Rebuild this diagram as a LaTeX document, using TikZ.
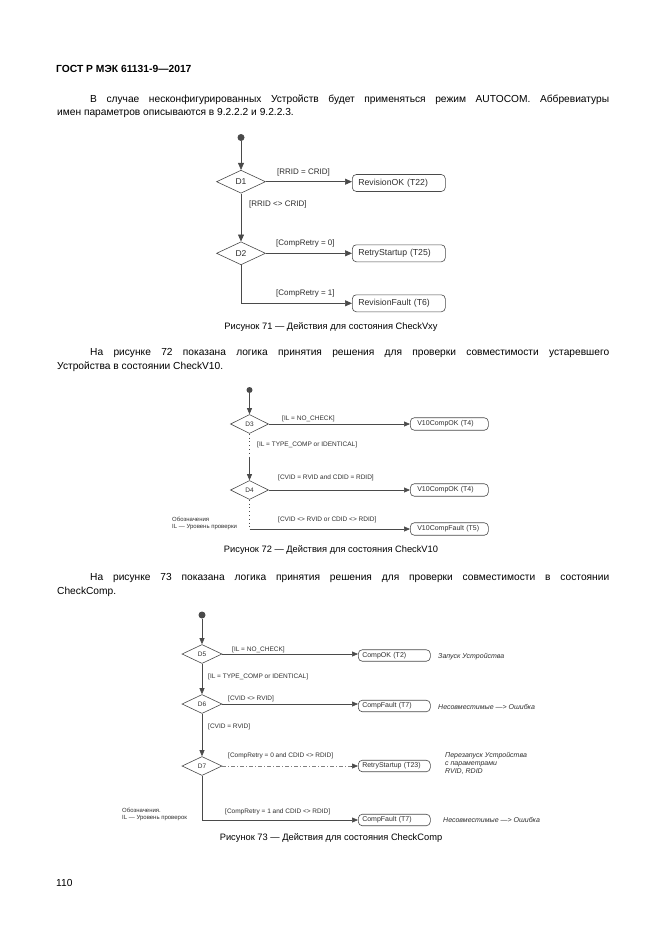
\documentclass[tikz,border=0pt]{standalone}
\usepackage{fontspec}
\setmainfont{Liberation Sans}
\usetikzlibrary{shapes.geometric,arrows.meta}
\definecolor{lc}{HTML}{4A4A4A}
\definecolor{tc}{HTML}{2E2E2E}
\begin{document}
\begin{tikzpicture}[x=1pt,y=-1pt,
  ptxt/.style={anchor=base west,inner sep=0pt,font=\fontsize{10.2}{12}\selectfont},
  capt/.style={anchor=base,inner sep=0pt,font=\fontsize{9.3}{11}\selectfont},
  ln/.style={draw=lc,line width=.6pt},
  arrA/.style={ln,-{Triangle[length=7pt,width=6pt]}},
  arrB/.style={ln,-{Triangle[length=6pt,width=5pt]}},
  dotl/.style={ln,dash pattern=on .8pt off 3pt},
  dashl/.style={draw=lc!70,line width=.5pt,dash pattern=on 4pt off 2pt on 1pt off 2pt},
  ini/.style={circle,fill=lc,inner sep=0pt,minimum size=7pt},
  dm/.style={draw=lc,line width=.6pt,diamond,inner sep=0pt,text=tc},
  dA/.style={dm,minimum width=49pt,minimum height=23pt,font=\fontsize{8.5}{10}\selectfont},
  dB/.style={dm,minimum width=38pt,minimum height=19pt,font=\fontsize{6.5}{8}\selectfont},
  dC/.style={dm,minimum width=40pt,minimum height=19pt,font=\fontsize{6.5}{8}\selectfont},
  bx/.style={draw=lc,line width=.6pt,rounded corners=4pt,anchor=west,inner ysep=0pt,align=left,text=tc},
  bA/.style={bx,minimum height=17pt,text width=81pt,inner xsep=6pt,font=\fontsize{8.7}{10}\selectfont},
  bB/.style={bx,minimum height=12.5pt,text width=64pt,inner xsep=7pt,font=\fontsize{7}{8}\selectfont},
  bC/.style={bx,minimum height=11.5pt,text width=64pt,inner xsep=4pt,font=\fontsize{7}{8}\selectfont},
  lA/.style={anchor=west,inner sep=0pt,text=tc,font=\fontsize{8}{9}\selectfont},
  lB/.style={anchor=west,inner sep=0pt,text=tc,font=\fontsize{6.5}{8}\selectfont},
  note/.style={anchor=west,inner sep=0pt,text=tc,font=\fontsize{7}{8}\selectfont\itshape},
  leg/.style={anchor=west,inner sep=0pt,text=tc,font=\fontsize{6}{7}\selectfont}
]
\useasboundingbox[fill=white] (0,0) rectangle (661,935);

% ---------- page text ----------
\node[ptxt,font=\fontsize{10.3}{12}\selectfont\bfseries] (hdr) at (56,72.5) {ГОСТ Р МЭК 61131-9—2017};
\node[ptxt] (p1a) at (90,102.5) {\makebox[519pt][s]{В случае несконфигурированных Устройств будет применяться режим AUTOCOM. Аббревиатуры}};
\node[ptxt] (p1b) at (57,115.5) {имен параметров описываются в 9.2.2.2 и 9.2.2.3.};
\node[capt] (c71) at (331,329.5) {Рисунок 71 — Действия для состояния CheckVxy};
\node[ptxt] (p2a) at (90,355.5) {\makebox[519pt][s]{На рисунке 72 показана логика принятия решения для проверки совместимости устаревшего}};
\node[ptxt] (p2b) at (57,369.5) {Устройства в состоянии CheckV10.};
\node[capt] (c72) at (331,552.5) {Рисунок 72 — Действия для состояния CheckV10};
\node[ptxt] (p3a) at (90,580.5) {\makebox[519pt][s]{На рисунке 73 показана логика принятия решения для проверки совместимости в состоянии}};
\node[ptxt] (p3b) at (57,594.5) {CheckComp.};
\node[capt] (c73) at (331,840.5) {Рисунок 73 — Действия для состояния CheckComp};
\node[ptxt] (pg) at (56,886.5) {110};

% ---------- Figure 71 ----------
\node[ini] (s1) at (241,137.5) {};
\node[dA] (d1) at (241,181.7) {D1};
\node[bA] (r1) at (352,183) {RevisionOK (T22)};
\node[dA] (d2) at (241,253.3) {D2};
\node[bA] (r2) at (352,253.3) {RetryStartup (T25)};
\node[bA] (r3) at (352,303.3) {RevisionFault (T6)};
\draw[arrA] (s1) -- (d1);
\draw[arrA] (d1.east) -- (d1.east -| r1.west);
\draw[arrA] (d1) -- (d2);
\draw[arrA] (d2) -- (r2);
\draw[arrA] (d2.south) |- (r3.west);
\node[lA] (l1) at (277,172.7) {[RRID = CRID]};
\node[lA] (l2) at (249,204) {[RRID <> CRID]};
\node[lA] (l3) at (276,243.3) {[CompRetry = 0]};
\node[lA] (l4) at (276,293.3) {[CompRetry = 1]};

% ---------- Figure 72 ----------
\node[ini,minimum size=6pt] (s2) at (249.5,390) {};
\node[dB] (d3) at (249.5,424) {D3};
\node[bB] (v1) at (410,424) {V10CompOK (T4)};
\coordinate (k1) at (249.5,457);
\node[dB] (d4) at (249.5,490) {D4};
\node[bB] (v2) at (410,490) {V10CompOK (T4)};
\coordinate (k2) at (249.5,529);
\node[bB] (v3) at (410,529) {V10CompFault (T5)};
\draw[arrB] (s2) -- (d3);
\draw[arrB] (d3) -- (v1);
\draw[dotl] (d3) -- (k1);
\draw[arrB] (k1) -- (d4);
\draw[arrB] (d4) -- (v2);
\draw[dotl] (d4) -- (k2);
\draw[arrB] (k2) -- (v3);
\node[lB] (l5) at (282,419) {[IL = NO\_CHECK]};
\node[lB] (l6) at (257,445) {[IL = TYPE\_COMP or IDENTICAL]};
\node[lB] (l7) at (278,478) {[CVID = RVID and CDID = RDID]};
\node[lB] (l8) at (278,520) {[CVID <> RVID or CDID <> RDID]};
\node[leg] (g1) at (172,519.5) {Обозначения};
\node[leg] (g2) at (172,527.5) {IL — Уровень проверки};

% ---------- Figure 73 ----------
\node[ini] (s3) at (202,615) {};
\node[dC] (d5) at (202,654) {D5};
\node[bC] (b1) at (358,655.5) {CompOK (T2)};
\node[dC] (d6) at (202,704) {D6};
\node[bC] (b2) at (358,706) {CompFault (T7)};
\node[dC] (d7) at (202,766) {D7};
\node[bC] (b3) at (358,766) {RetryStartup (T23)};
\node[bC] (b4) at (358,820) {CompFault (T7)};
\draw[arrB] (s3) -- (d5);
\draw[arrB] (d5.east) -- (d5.east -| b1.west);
\draw[arrB] (d5) -- (d6);
\draw[arrB] (d6.east) -- (d6.east -| b2.west);
\draw[arrB] (d6) -- (d7);
\draw[dashl] (d7.east) -- ([xshift=-6pt]d7.east -| b3.west);
\draw[arrB] ([xshift=-7pt]d7.east -| b3.west) -- (d7.east -| b3.west);
\draw[arrB] (d7.south) |- (b4.west);
\node[lB] (l9) at (232,650) {[IL = NO\_CHECK]};
\node[lB] (l10) at (208,677) {[IL = TYPE\_COMP or IDENTICAL]};
\node[lB] (l11) at (228,699) {[CVID <> RVID]};
\node[lB] (l12) at (208,727) {[CVID = RVID]};
\node[lB] (l13) at (228,756) {[CompRetry = 0 and CDID <> RDID]};
\node[lB] (l14) at (225,812) {[CompRetry = 1 and CDID <> RDID]};
\node[note] (n1) at (438,656.5) {Запуск Устройства};
\node[note] (n2) at (438,707) {Несовместимые —> Ошибка};
\node[note,align=left,font=\fontsize{7}{8}\selectfont\itshape] (n3) at (445,763) {Перезапуск Устройства\\с параметрами\\RVID, RDID};
\node[note] (n4) at (443,820) {Несовместимые —> Ошибка};
\node[leg] (g3) at (122,810) {Обозначения.};
\node[leg] (g4) at (122,818) {IL — Уровень проверок};
\end{tikzpicture}
\end{document}
